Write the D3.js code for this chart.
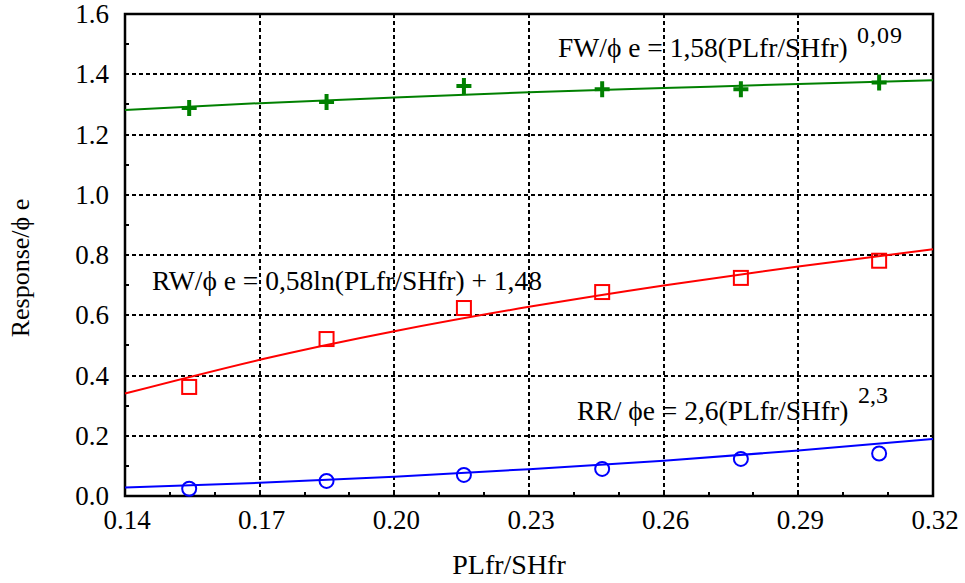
<!DOCTYPE html>
<html>
<head>
<meta charset="utf-8">
<script src="https://cdn.jsdelivr.net/npm/d3@7"></script>
<style>
  html, body { margin: 0; padding: 0; background: #fff; }
  svg text { font-family: "Liberation Serif", "DejaVu Serif", serif; }
</style>
</head>
<body>
<svg id="chart" width="965" height="583"></svg>
<script>
// ---- data ----
const xValues = [0.1543, 0.1849, 0.2155, 0.2463, 0.2772, 0.3080];
const fwValues = [1.288, 1.308, 1.361, 1.350, 1.350, 1.373];
const rwValues = [0.362, 0.521, 0.624, 0.677, 0.724, 0.781];
const rrValues = [0.024, 0.050, 0.070, 0.090, 0.123, 0.141];

// fitted curves
const fitX = [0.14, 0.17, 0.20, 0.23, 0.26, 0.29, 0.32];
const fwFit = [1.281, 1.304, 1.323, 1.340, 1.354, 1.368, 1.380];
const rwFit = [0.340, 0.452, 0.547, 0.628, 0.699, 0.762, 0.819];
const rrFit = [0.028, 0.044, 0.064, 0.089, 0.117, 0.151, 0.189];

const xTicks = [0.14, 0.17, 0.20, 0.23, 0.26, 0.29, 0.32];
const yTicks = [0.0, 0.2, 0.4, 0.6, 0.8, 1.0, 1.2, 1.4, 1.6];

const xTitle = "PLfr/SHfr";
const yTitle = "Response/\u03D5 e";

// ---- layout ----
const FONT = "Liberation Serif, DejaVu Serif, serif";
const svg = d3.select("#chart");
const L = 125, R = 933, T = 14, B = 496;
const x = d3.scaleLinear().domain([0.14, 0.32]).range([L, R]);
const y = d3.scaleLinear().domain([0, 1.6]).range([B, T]);

function txt(sel) { return sel.attr("font-family", FONT).attr("fill", "#000"); }

// grid
const grid = svg.append("g").attr("stroke", "#000").attr("stroke-width", 2)
  .attr("stroke-dasharray", "4,3").attr("fill", "none").attr("shape-rendering", "crispEdges");
xTicks.slice(1, -1).forEach(t => {
  grid.append("line").attr("x1", Math.round(x(t))).attr("x2", Math.round(x(t))).attr("y1", T).attr("y2", B);
});
yTicks.slice(1, -1).forEach(t => {
  grid.append("line").attr("x1", L).attr("x2", R).attr("y1", Math.round(y(t))).attr("y2", Math.round(y(t)));
});

// minor ticks (inward)
const minor = svg.append("g").attr("stroke", "#000").attr("stroke-width", 2).attr("shape-rendering", "crispEdges");
d3.range(0.15, 0.3199, 0.01).forEach(t => {
  minor.append("line").attr("x1", Math.round(x(t))).attr("x2", Math.round(x(t))).attr("y1", B).attr("y2", B - 4);
});
d3.range(0.1, 1.6, 0.2).forEach(t => {
  minor.append("line").attr("x1", L).attr("x2", L + 4).attr("y1", Math.round(y(t))).attr("y2", Math.round(y(t)));
});

// frame
svg.append("rect").attr("x", L).attr("y", T).attr("width", R - L).attr("height", B - T)
  .attr("fill", "none").attr("stroke", "#000").attr("stroke-width", 2.5);

// tick labels
txt(svg.append("g").selectAll("text").data(xTicks).join("text"))
  .attr("x", d => x(d) + 2).attr("y", 529)
  .attr("text-anchor", "middle").attr("font-size", 27)
  .text(d => d.toFixed(2));
txt(svg.append("g").selectAll("text").data(yTicks).join("text"))
  .attr("x", 109).attr("y", d => y(d) + 9)
  .attr("text-anchor", "end").attr("font-size", 27)
  .text(d => d.toFixed(1));

// axis titles
txt(svg.append("text")).attr("x", 509).attr("y", 574).attr("text-anchor", "middle")
  .attr("font-size", 28).text(xTitle);
txt(svg.append("text")).attr("transform", "translate(29,268) rotate(-90)")
  .attr("text-anchor", "middle").attr("font-size", 26).text(yTitle);

// fitted lines
const line = d3.line().x(d => x(d[0])).y(d => y(d[1])).curve(d3.curveNatural);
const fits = [
  { vals: fwFit, color: "#008000" },
  { vals: rwFit, color: "#ff0000" },
  { vals: rrFit, color: "#0000ff" }
];
fits.forEach(f => {
  svg.append("path").datum(fitX.map((xv, i) => [xv, f.vals[i]]))
    .attr("d", line).attr("fill", "none").attr("stroke", f.color).attr("stroke-width", 2);
});

// markers
const gFW = svg.append("g");
xValues.forEach((xv, i) => {
  gFW.append("path").attr("transform", `translate(${x(xv)},${y(fwValues[i])})`)
    .attr("d", "M-7.5,0H7.5M0,-8V8").attr("stroke", "#008000").attr("stroke-width", 4)
    .attr("fill", "none");
});
const gRW = svg.append("g");
xValues.forEach((xv, i) => {
  gRW.append("rect").attr("x", x(xv) - 7).attr("y", y(rwValues[i]) - 7)
    .attr("width", 14).attr("height", 14)
    .attr("fill", "none").attr("stroke", "#ff0000").attr("stroke-width", 2);
});
const gRR = svg.append("g");
xValues.forEach((xv, i) => {
  gRR.append("circle").attr("cx", x(xv)).attr("cy", y(rrValues[i])).attr("r", 7)
    .attr("fill", "none").attr("stroke", "#0000ff").attr("stroke-width", 2);
});

// equations
txt(svg.append("text")).attr("x", 558).attr("y", 57).attr("font-size", 27.5)
  .text("FW/\u03D5 e = 1,58(PLfr/SHfr)");
txt(svg.append("text")).attr("x", 857).attr("y", 43).attr("font-size", 24)
  .attr("letter-spacing", 1).text("0,09");

txt(svg.append("text")).attr("x", 152).attr("y", 290).attr("font-size", 27.5)
  .text("RW/\u03D5 e = 0,58ln(PLfr/SHfr) + 1,48");

txt(svg.append("text")).attr("x", 577).attr("y", 420).attr("font-size", 27.5)
  .text("RR/ \u03D5e = 2,6(PLfr/SHfr)");
txt(svg.append("text")).attr("x", 858).attr("y", 403).attr("font-size", 24).text("2,3");
</script>
</body>
</html>
